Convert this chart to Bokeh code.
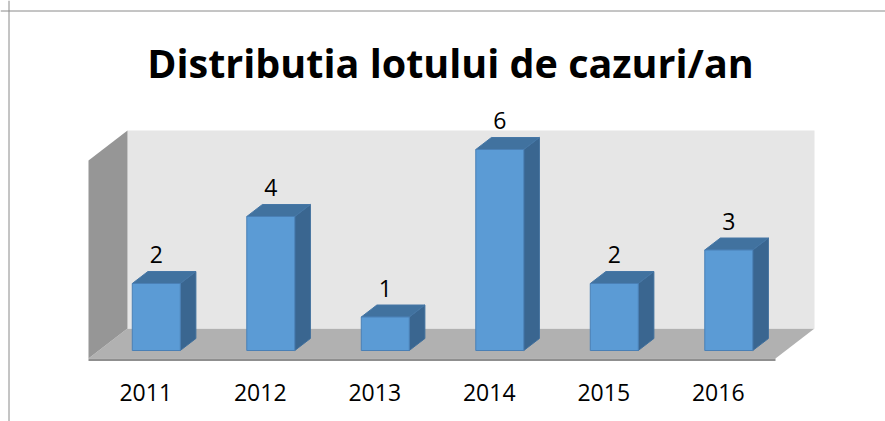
from bokeh.plotting import figure
from bokeh.models import Range1d, Span
from bokeh.core.properties import value
from bokeh.embed import file_html
from bokeh.resources import INLINE

# ---- data ----
years = ["2011", "2012", "2013", "2014", "2015", "2016"]
counts = [2, 4, 1, 6, 2, 3]
title_text = "Distributia lotului de cazuri/an"

# ---- geometry (data units: 1 category = 1 x unit, 1 case = 1 y unit) ----
PX_X = 114.5   # pixels per category
PX_Y = 33.5    # pixels per case
DEPTH_X = 39 / PX_X          # full floor depth, x shift
DEPTH_Y = 30 / PX_Y          # full floor depth, y shift
FRONT = 0.27                 # bar front plane depth fraction
BAR_DEPTH = 0.4              # bar depth fraction
BAR_W = 48 / PX_X
WALL_TOP = 6.567
n = len(years)

W, H = 885, 421
x0 = -88 / PX_X
y1 = 350 / PX_Y
p = figure(width=W, height=H, output_backend="svg", toolbar_location=None,
           x_range=Range1d(x0, x0 + W / PX_X), y_range=Range1d(y1 - H / PX_Y, y1),
           min_border=0, outline_line_color=None, background_fill_color="white",
           border_fill_color="white")
p.xaxis.visible = False
p.yaxis.visible = False
p.grid.visible = False

# chart border (top / left)
p.add_layout(Span(location=y1 - 10.5 / PX_Y, dimension="width", line_color="#8a8a8a", line_width=1))
p.add_layout(Span(location=x0 + 8.5 / PX_X, dimension="height", line_color="#8a8a8a", line_width=1))

fy = -FRONT * DEPTH_Y          # floor front edge
by = fy + DEPTH_Y              # floor back edge
# floor
p.patch([0, n, n + DEPTH_X, DEPTH_X], [fy, fy, by, by], fill_color="#b1b1b1", line_color=None)
p.patch([0, n, n, 0], [fy, fy, fy - 2.5 / PX_Y, fy - 2.5 / PX_Y], fill_color="#8f8f8f", line_color=None)
# back wall
p.patch([DEPTH_X, n + DEPTH_X, n + DEPTH_X, DEPTH_X], [by, by, WALL_TOP, WALL_TOP],
        fill_color="#e6e6e6", line_color=None)
# left wall
p.patch([0, DEPTH_X, DEPTH_X, 0], [fy, by, WALL_TOP, WALL_TOP - DEPTH_Y],
        fill_color="#969696", line_color=None)

# bars
ddx = BAR_DEPTH * DEPTH_X
ddy = BAR_DEPTH * DEPTH_Y
lefts = [i + 0.5 - BAR_W / 2 + FRONT * DEPTH_X for i in range(n)]
rights = [l + BAR_W for l in lefts]
side_xs = [[r, r + ddx, r + ddx, r] for r in rights]
side_ys = [[0, ddy, v + ddy, v] for v in counts]
top_xs = [[l, r, r + ddx, l + ddx] for l, r in zip(lefts, rights)]
top_ys = [[v, v, v + ddy, v + ddy] for v in counts]
p.patches(side_xs, side_ys, fill_color="#3a6690", line_color="#3f6f9c", line_width=1)
p.patches(top_xs, top_ys, fill_color="#41729f", line_color="#4677a6", line_width=1)
p.quad(left=lefts, right=rights, bottom=[0] * n, top=counts,
       fill_color="#5b9bd5", line_color="#4a80b6", line_width=1)

# value labels
centers = [(l + r) / 2 for l, r in zip(lefts, rights)]
p.text(x=centers, y=[v + 29 / PX_Y for v in counts], text=[str(v) for v in counts],
       text_font=value("Open Sans"), text_font_size="23px", text_color="black",
       text_align="center", text_baseline="alphabetic")

# category labels
p.text(x=[i + 0.5 for i in range(n)], y=[-42 / PX_Y] * n, text=years,
       text_font=value("Open Sans"), text_font_size="23px", text_color="black",
       text_align="center", text_baseline="alphabetic")

# title
p.text(x=[(450 - 88) / PX_X], y=[288 / PX_Y], text=[title_text],
       text_font=value("Open Sans"), text_font_style="bold", text_font_size="39.5px",
       text_color="black", text_align="center", text_baseline="alphabetic")

open("out.html", "w").write(file_html(p, INLINE))
